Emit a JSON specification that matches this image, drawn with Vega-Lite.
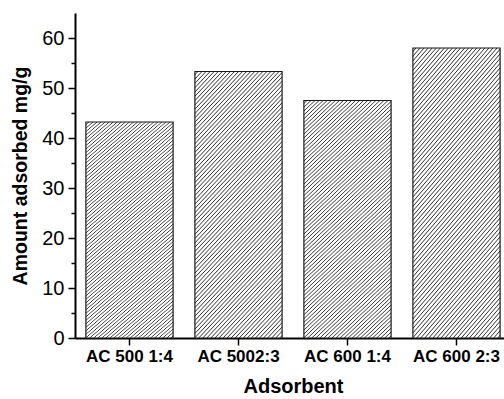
{
  "$schema": "https://vega.github.io/schema/vega-lite/v6.json",
  "width": 429,
  "height": 325,
  "autosize": {"type": "none"},
  "padding": {"left": 75, "top": 13, "right": 0, "bottom": 61},
  "background": "white",
  "config": {
    "view": {"stroke": null},
    "font": "Liberation Sans",
    "axis": {"grid": false, "domainColor": "#000", "domainWidth": 2, "tickColor": "#000", "tickWidth": 1.5, "labelColor": "#000", "titleColor": "#000", "labelFont": "Liberation Sans", "titleFont": "Liberation Sans"}
  },
  "data": {
    "values": [
      {"Adsorbent": "AC 500 1:4", "Amount": 43.2},
      {"Adsorbent": "AC 5002:3", "Amount": 53.3},
      {"Adsorbent": "AC 600 1:4", "Amount": 47.5},
      {"Adsorbent": "AC 600 2:3", "Amount": 58.0}
    ]
  },
  "mark": {
    "type": "bar",
    "stroke": "#1a1a1a",
    "strokeWidth": 1.2,
    "fill": {
      "gradient": "linear",
      "x1": 0, "y1": 0, "x2": 0.4185, "y2": 1.2025,
      "stops": [
        {"offset":0,"color":"#fff"},{"offset":0.006,"color":"#fff"},{"offset":0.009,"color":"#333"},
        {"offset":0.012,"color":"#fff"},{"offset":0.018,"color":"#fff"},{"offset":0.021,"color":"#333"},
        {"offset":0.024,"color":"#fff"},{"offset":0.030,"color":"#fff"},{"offset":0.033,"color":"#333"},
        {"offset":0.036,"color":"#fff"},{"offset":0.042,"color":"#fff"},{"offset":0.045,"color":"#333"},
        {"offset":0.048,"color":"#fff"},{"offset":0.054,"color":"#fff"},{"offset":0.057,"color":"#333"},
        {"offset":0.060,"color":"#fff"},{"offset":0.066,"color":"#fff"},{"offset":0.069,"color":"#333"},
        {"offset":0.072,"color":"#fff"},{"offset":0.078,"color":"#fff"},{"offset":0.081,"color":"#333"},
        {"offset":0.084,"color":"#fff"},{"offset":0.090,"color":"#fff"},{"offset":0.093,"color":"#333"},
        {"offset":0.096,"color":"#fff"},{"offset":0.102,"color":"#fff"},{"offset":0.105,"color":"#333"},
        {"offset":0.108,"color":"#fff"},{"offset":0.114,"color":"#fff"},{"offset":0.117,"color":"#333"},
        {"offset":0.120,"color":"#fff"},{"offset":0.126,"color":"#fff"},{"offset":0.129,"color":"#333"},
        {"offset":0.132,"color":"#fff"},{"offset":0.138,"color":"#fff"},{"offset":0.141,"color":"#333"},
        {"offset":0.144,"color":"#fff"},{"offset":0.150,"color":"#fff"},{"offset":0.153,"color":"#333"},
        {"offset":0.156,"color":"#fff"},{"offset":0.162,"color":"#fff"},{"offset":0.165,"color":"#333"},
        {"offset":0.168,"color":"#fff"},{"offset":0.174,"color":"#fff"},{"offset":0.177,"color":"#333"},
        {"offset":0.180,"color":"#fff"},{"offset":0.186,"color":"#fff"},{"offset":0.189,"color":"#333"},
        {"offset":0.192,"color":"#fff"},{"offset":0.198,"color":"#fff"},{"offset":0.201,"color":"#333"},
        {"offset":0.204,"color":"#fff"},{"offset":0.210,"color":"#fff"},{"offset":0.213,"color":"#333"},
        {"offset":0.216,"color":"#fff"},{"offset":0.222,"color":"#fff"},{"offset":0.225,"color":"#333"},
        {"offset":0.228,"color":"#fff"},{"offset":0.234,"color":"#fff"},{"offset":0.237,"color":"#333"},
        {"offset":0.240,"color":"#fff"},{"offset":0.246,"color":"#fff"},{"offset":0.249,"color":"#333"},
        {"offset":0.252,"color":"#fff"},{"offset":0.258,"color":"#fff"},{"offset":0.261,"color":"#333"},
        {"offset":0.264,"color":"#fff"},{"offset":0.270,"color":"#fff"},{"offset":0.273,"color":"#333"},
        {"offset":0.276,"color":"#fff"},{"offset":0.282,"color":"#fff"},{"offset":0.285,"color":"#333"},
        {"offset":0.288,"color":"#fff"},{"offset":0.294,"color":"#fff"},{"offset":0.297,"color":"#333"},
        {"offset":0.300,"color":"#fff"},{"offset":0.306,"color":"#fff"},{"offset":0.309,"color":"#333"},
        {"offset":0.312,"color":"#fff"},{"offset":0.318,"color":"#fff"},{"offset":0.321,"color":"#333"},
        {"offset":0.324,"color":"#fff"},{"offset":0.330,"color":"#fff"},{"offset":0.333,"color":"#333"},
        {"offset":0.336,"color":"#fff"},{"offset":0.342,"color":"#fff"},{"offset":0.345,"color":"#333"},
        {"offset":0.348,"color":"#fff"},{"offset":0.354,"color":"#fff"},{"offset":0.357,"color":"#333"},
        {"offset":0.360,"color":"#fff"},{"offset":0.366,"color":"#fff"},{"offset":0.369,"color":"#333"},
        {"offset":0.372,"color":"#fff"},{"offset":0.378,"color":"#fff"},{"offset":0.381,"color":"#333"},
        {"offset":0.384,"color":"#fff"},{"offset":0.390,"color":"#fff"},{"offset":0.393,"color":"#333"},
        {"offset":0.396,"color":"#fff"},{"offset":0.402,"color":"#fff"},{"offset":0.405,"color":"#333"},
        {"offset":0.408,"color":"#fff"},{"offset":0.414,"color":"#fff"},{"offset":0.417,"color":"#333"},
        {"offset":0.420,"color":"#fff"},{"offset":0.426,"color":"#fff"},{"offset":0.429,"color":"#333"},
        {"offset":0.432,"color":"#fff"},{"offset":0.438,"color":"#fff"},{"offset":0.441,"color":"#333"},
        {"offset":0.444,"color":"#fff"},{"offset":0.450,"color":"#fff"},{"offset":0.453,"color":"#333"},
        {"offset":0.456,"color":"#fff"},{"offset":0.462,"color":"#fff"},{"offset":0.465,"color":"#333"},
        {"offset":0.468,"color":"#fff"},{"offset":0.474,"color":"#fff"},{"offset":0.477,"color":"#333"},
        {"offset":0.480,"color":"#fff"},{"offset":0.486,"color":"#fff"},{"offset":0.489,"color":"#333"},
        {"offset":0.492,"color":"#fff"},{"offset":0.498,"color":"#fff"},{"offset":0.501,"color":"#333"},
        {"offset":0.504,"color":"#fff"},{"offset":0.510,"color":"#fff"},{"offset":0.513,"color":"#333"},
        {"offset":0.516,"color":"#fff"},{"offset":0.522,"color":"#fff"},{"offset":0.525,"color":"#333"},
        {"offset":0.528,"color":"#fff"},{"offset":0.534,"color":"#fff"},{"offset":0.537,"color":"#333"},
        {"offset":0.540,"color":"#fff"},{"offset":0.546,"color":"#fff"},{"offset":0.549,"color":"#333"},
        {"offset":0.552,"color":"#fff"},{"offset":0.558,"color":"#fff"},{"offset":0.561,"color":"#333"},
        {"offset":0.564,"color":"#fff"},{"offset":0.570,"color":"#fff"},{"offset":0.573,"color":"#333"},
        {"offset":0.576,"color":"#fff"},{"offset":0.582,"color":"#fff"},{"offset":0.585,"color":"#333"},
        {"offset":0.588,"color":"#fff"},{"offset":0.594,"color":"#fff"},{"offset":0.597,"color":"#333"},
        {"offset":0.600,"color":"#fff"},{"offset":0.606,"color":"#fff"},{"offset":0.609,"color":"#333"},
        {"offset":0.612,"color":"#fff"},{"offset":0.618,"color":"#fff"},{"offset":0.621,"color":"#333"},
        {"offset":0.624,"color":"#fff"},{"offset":0.630,"color":"#fff"},{"offset":0.633,"color":"#333"},
        {"offset":0.636,"color":"#fff"},{"offset":0.642,"color":"#fff"},{"offset":0.645,"color":"#333"},
        {"offset":0.648,"color":"#fff"},{"offset":0.654,"color":"#fff"},{"offset":0.657,"color":"#333"},
        {"offset":0.660,"color":"#fff"},{"offset":0.666,"color":"#fff"},{"offset":0.669,"color":"#333"},
        {"offset":0.672,"color":"#fff"},{"offset":0.678,"color":"#fff"},{"offset":0.681,"color":"#333"},
        {"offset":0.684,"color":"#fff"},{"offset":0.690,"color":"#fff"},{"offset":0.693,"color":"#333"},
        {"offset":0.696,"color":"#fff"},{"offset":0.702,"color":"#fff"},{"offset":0.705,"color":"#333"},
        {"offset":0.708,"color":"#fff"},{"offset":0.714,"color":"#fff"},{"offset":0.717,"color":"#333"},
        {"offset":0.720,"color":"#fff"},{"offset":0.726,"color":"#fff"},{"offset":0.729,"color":"#333"},
        {"offset":0.732,"color":"#fff"},{"offset":0.738,"color":"#fff"},{"offset":0.741,"color":"#333"},
        {"offset":0.744,"color":"#fff"},{"offset":0.750,"color":"#fff"},{"offset":0.753,"color":"#333"},
        {"offset":0.756,"color":"#fff"},{"offset":0.762,"color":"#fff"},{"offset":0.765,"color":"#333"},
        {"offset":0.768,"color":"#fff"},{"offset":0.774,"color":"#fff"},{"offset":0.777,"color":"#333"},
        {"offset":0.780,"color":"#fff"},{"offset":0.786,"color":"#fff"},{"offset":0.789,"color":"#333"},
        {"offset":0.792,"color":"#fff"},{"offset":0.798,"color":"#fff"},{"offset":0.801,"color":"#333"},
        {"offset":0.804,"color":"#fff"},{"offset":0.810,"color":"#fff"},{"offset":0.813,"color":"#333"},
        {"offset":0.816,"color":"#fff"},{"offset":0.822,"color":"#fff"},{"offset":0.825,"color":"#333"},
        {"offset":0.828,"color":"#fff"},{"offset":0.834,"color":"#fff"},{"offset":0.837,"color":"#333"},
        {"offset":0.840,"color":"#fff"},{"offset":0.846,"color":"#fff"},{"offset":0.849,"color":"#333"},
        {"offset":0.852,"color":"#fff"},{"offset":0.858,"color":"#fff"},{"offset":0.861,"color":"#333"},
        {"offset":0.864,"color":"#fff"},{"offset":0.870,"color":"#fff"},{"offset":0.873,"color":"#333"},
        {"offset":0.876,"color":"#fff"},{"offset":0.882,"color":"#fff"},{"offset":0.885,"color":"#333"},
        {"offset":0.888,"color":"#fff"},{"offset":0.894,"color":"#fff"},{"offset":0.897,"color":"#333"},
        {"offset":0.900,"color":"#fff"},{"offset":0.906,"color":"#fff"},{"offset":0.909,"color":"#333"},
        {"offset":0.912,"color":"#fff"},{"offset":0.918,"color":"#fff"},{"offset":0.921,"color":"#333"},
        {"offset":0.924,"color":"#fff"},{"offset":0.930,"color":"#fff"},{"offset":0.933,"color":"#333"},
        {"offset":0.936,"color":"#fff"},{"offset":0.942,"color":"#fff"},{"offset":0.945,"color":"#333"},
        {"offset":0.948,"color":"#fff"},{"offset":0.954,"color":"#fff"},{"offset":0.957,"color":"#333"},
        {"offset":0.960,"color":"#fff"},{"offset":0.966,"color":"#fff"},{"offset":0.969,"color":"#333"},
        {"offset":0.972,"color":"#fff"},{"offset":0.978,"color":"#fff"},{"offset":0.981,"color":"#333"},
        {"offset":0.984,"color":"#fff"},{"offset":0.990,"color":"#fff"},{"offset":0.993,"color":"#333"},
        {"offset":0.996,"color":"#fff"},{"offset":1,"color":"#fff"}
      ]
    }
  },
  "encoding": {
    "x": {
      "field": "Adsorbent",
      "type": "nominal",
      "sort": null,
      "scale": {"range": [0, 436], "paddingInner": 0.2, "paddingOuter": 0.1},
      "axis": {
        "title": "Adsorbent",
        "labelAngle": 0,
        "labelFontSize": 17,
        "labelFontWeight": "bold",
        "labelPadding": 3,
        "tickSize": 7,
        "titleFontSize": 20,
        "titleFontWeight": "bold",
        "titlePadding": 12
      }
    },
    "y": {
      "field": "Amount",
      "type": "quantitative",
      "scale": {"domain": [0, 65], "nice": false},
      "axis": {
        "title": "Amount adsorbed mg/g",
        "values": [0, 5, 10, 15, 20, 25, 30, 35, 40, 45, 50, 55, 60],
        "labelExpr": "datum.value % 10 === 0 ? datum.label : ''",
        "tickSize": {"condition": {"test": "datum.value % 10 === 0", "value": 7}, "value": 4},
        "labelFontSize": 20,
        "labelPadding": 4,
        "titleFontSize": 19.5,
        "titleFontWeight": "bold",
        "titlePadding": 11
      }
    }
  }
}
